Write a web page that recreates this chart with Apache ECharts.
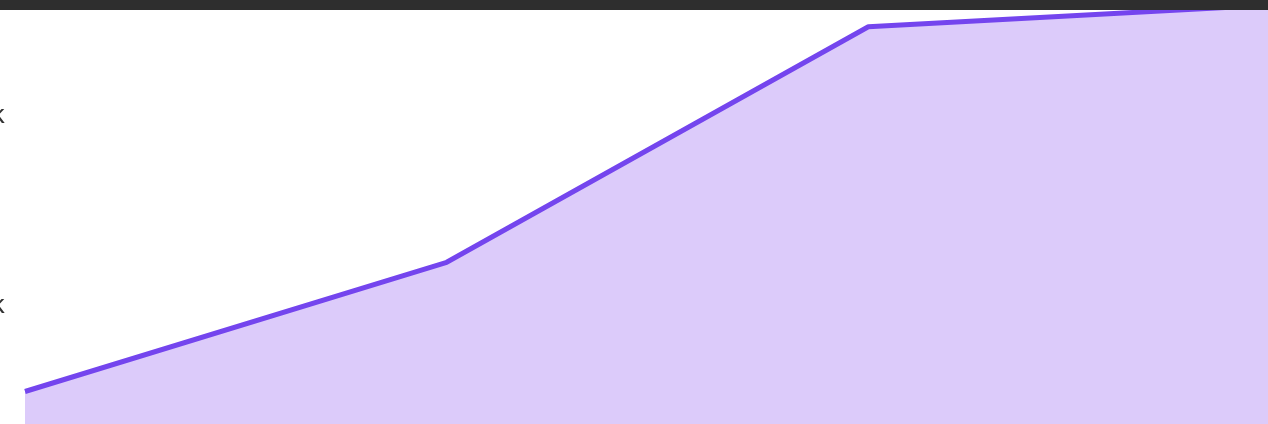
<!DOCTYPE html>
<html>
<head>
<meta charset="utf-8">
<script src="https://cdn.jsdelivr.net/npm/echarts@6/dist/echarts.min.js"></script>
<style>
  html, body { margin: 0; padding: 0; background: #fff; overflow: hidden; width: 1268px; height: 424px; position: relative; }
  #topBar { position: absolute; left: 0; top: 0; width: 1268px; height: 10px; background: #2e2e2e; z-index: 2; }
  /* chart is bigger than the window, the picture is only a crop of it */
  #chart { position: absolute; left: 0; top: -200px; width: 1400px; height: 900px; }
</style>
</head>
<body>
<div id="topBar"></div>
<div id="chart"></div>
<script>
const categories = ["P1", "P2", "P3", "P4"];
const values = [5500, 12300, 24700, 25900];
const yTicks = [0, 10000, 20000, 30000];

const chart = echarts.init(document.getElementById("chart"), null, { renderer: "canvas" });

chart.setOption({
  animation: false,
  grid: { left: 25, right: 110, top: 126, bottom: 204, containLabel: false, outerBoundsMode: "none" },
  xAxis: {
    type: "category",
    data: categories,
    boundaryGap: false,
    show: false,
  },
  yAxis: {
    type: "value",
    min: yTicks[0],
    max: yTicks[yTicks.length - 1],
    interval: 10000,
    axisLine: { show: false },
    axisTick: { show: false },
    splitLine: { show: false },
    axisLabel: {
      margin: 20,
      color: "#333",
      fontSize: 26,
      fontFamily: "Noto Sans",
      formatter: (v) => (v === 0 ? "0" : v / 1000 + "k"),
    },
  },
  series: [
    {
      type: "line",
      data: values,
      symbol: "none",
      lineStyle: { color: "#7445ee", width: 5 },
      areaStyle: { color: "#dccbfa", opacity: 1 },
    },
  ],
});
</script>
</body>
</html>
